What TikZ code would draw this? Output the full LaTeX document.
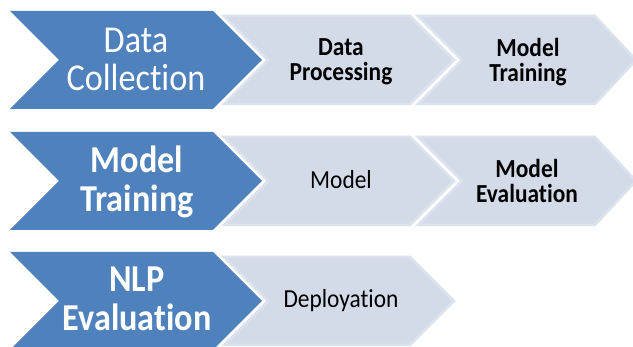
\documentclass[tikz,border=0pt]{standalone}
\usepackage{fontspec}
\setmainfont{Carlito}[FakeStretch=0.9, Ligatures={NoCommon}]
\definecolor{bluefill}{HTML}{4F81BD}
\definecolor{lightfill}{HTML}{D4DBE8}
\definecolor{lightedge}{HTML}{DCE2EE}
\definecolor{darktext}{HTML}{000000}
\tikzset{
  bluechev/.style={fill=bluefill},
  lightchev/.style={fill=lightfill, draw=lightedge, line width=2.5pt, line join=miter},
  bluetxt/.style={text=white, align=center, inner sep=0pt},
  bigthin/.style={bluetxt, font=\fontsize{38}{38}\selectfont},
  bigbold/.style={bluetxt, font=\fontsize{38}{39}\selectfont\bfseries},
  smallbold/.style={text=darktext, align=center, inner sep=0pt, font=\fontsize{26}{25}\selectfont\bfseries},
  smallreg/.style={text=darktext, align=center, inner sep=0pt, font=\fontsize{26}{26}\selectfont},
}
\newcommand{\bluerow}[1]{%
  \fill[bluechev] (10,#1) -- (213,#1) -- (262,#1+49) -- (213,#1+98) -- (10,#1+98) -- (59,#1+49) -- cycle;}
\newcommand{\lightA}[1]{%
  \draw[lightchev] (224,#1+5) -- (410,#1+5) -- (454,#1+49) -- (410,#1+93) -- (224,#1+93) -- (268,#1+49) -- cycle;}
\newcommand{\lightB}[1]{%
  \draw[lightchev] (418,#1+5) -- (595,#1+5) -- (636,#1+49) -- (595,#1+93) -- (418,#1+93) -- (462,#1+49) -- cycle;}
\begin{document}
\begin{tikzpicture}[x=1pt,y=-1pt]
\useasboundingbox (0,0) rectangle (633,347);
\clip (0,0) rectangle (633,347);
\fill[white] (0,0) rectangle (633,347);
% row 1
\bluerow{11}
\lightA{11}
\lightB{11}
\node[bigthin] (dc) at (136,59) {Data\\Collection};
\node[smallbold] (dp) at (341,62) {Data\\Processing};
\node[smallbold] (mt1) at (528,62) {Model\\Training};
% row 2
\bluerow{132}
\lightA{132}
\lightB{132}
\node[bigbold] (mt2) at (137,182) {Model\\Training};
\node[smallreg] (m) at (341,180) {Model};
\node[smallbold] (me) at (527,181) {Model\\Evaluation};
% row 3
\bluerow{252}
\lightA{252}
\node[bigbold] (nlp) at (137,299) {NLP\\Evaluation};
\node[smallreg] (dep) at (341,301) {Deployation};
\end{tikzpicture}
\end{document}
